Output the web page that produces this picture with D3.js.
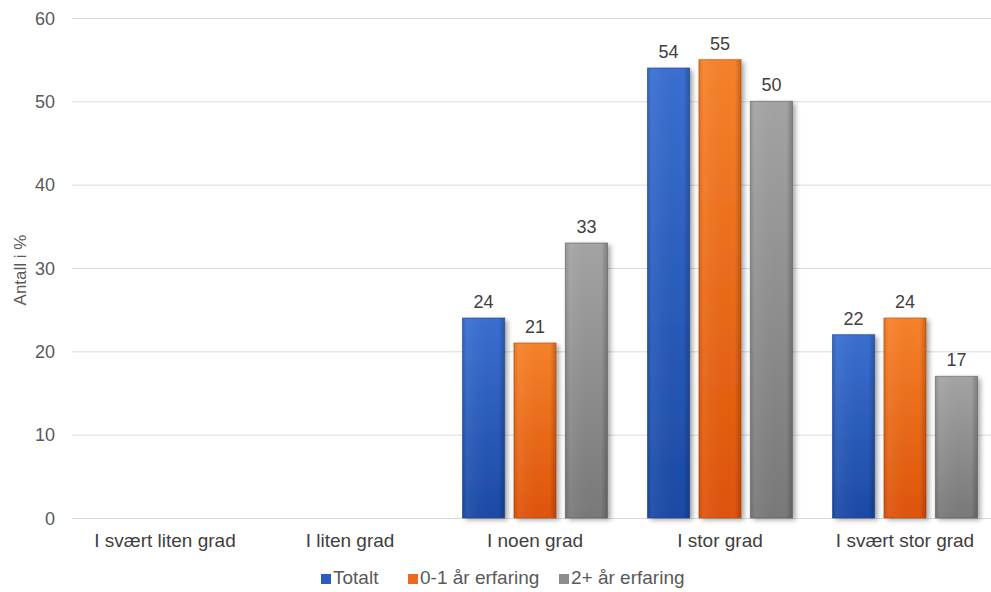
<!DOCTYPE html>
<html><head><meta charset="utf-8">
<script src="https://cdn.jsdelivr.net/npm/d3@7"></script>
<style>body{margin:0;background:#fff}svg{display:block;font-family:"Liberation Sans",Arial,sans-serif}</style>
</head><body><svg id="c" width="991" height="592"></svg>
<script>
const categories = ["I svært liten grad","I liten grad","I noen grad","I stor grad","I svært stor grad"];
const seriesNames = ["Totalt","0-1 år erfaring","2+ år erfaring"];
const totalt = [null,null,24,54,22];
const erfaring01 = [null,null,21,55,24];
const erfaring2 = [null,null,33,50,17];
const yTicks = [0,10,20,30,40,50,60];
const yTitle = "Antall i %";

const seriesVals = [totalt, erfaring01, erfaring2];
const colors = [
  {top:"#3a6fd2", bot:"#1b4aa6", edge:"#1a3f85", key:"#2b5cbf"},
  {top:"#f7822a", bot:"#df5408", edge:"#b44a0a", key:"#ec6a1a"},
  {top:"#a4a4a4", bot:"#797979", edge:"#5e5e5e", key:"#8c8c8c"}
];
const svg = d3.select("#c");
const defs = svg.append("defs");
colors.forEach((c,i)=>{
  const g = defs.append("linearGradient").attr("id","g"+i).attr("x1",0).attr("y1",0).attr("x2",0).attr("y2",1);
  g.append("stop").attr("offset","0%").attr("stop-color",c.top);
  g.append("stop").attr("offset","100%").attr("stop-color",c.bot);
  const h = defs.append("linearGradient").attr("id","h"+i).attr("x1",0).attr("y1",0).attr("x2",1).attr("y2",0);
  h.append("stop").attr("offset","0%").attr("stop-color","#000").attr("stop-opacity",0.12);
  h.append("stop").attr("offset","12%").attr("stop-color","#fff").attr("stop-opacity",0.06);
  h.append("stop").attr("offset","85%").attr("stop-color","#000").attr("stop-opacity",0.0);
  h.append("stop").attr("offset","100%").attr("stop-color","#000").attr("stop-opacity",0.22);
});
const f = defs.append("filter").attr("id","sh").attr("x","-20%").attr("y","-10%").attr("width","150%").attr("height","130%");
f.append("feDropShadow").attr("dx",3).attr("dy",2).attr("stdDeviation",2.5).attr("flood-color","#000").attr("flood-opacity",0.35);

const y = d3.scaleLinear().domain([0,60]).range([518,18]);
const x = d3.scaleBand().domain(categories).range([72.5,997.5]);
const x1 = d3.scaleBand().domain(seriesNames).range([20,x.bandwidth()-20]).paddingInner(0.18);

// gridlines
svg.append("g").selectAll("line").data(yTicks).join("line")
  .attr("x1",72).attr("x2",991).attr("y1",d=>y(d)+0.5).attr("y2",d=>y(d)+0.5)
  .attr("stroke","#d9d9d9").attr("stroke-width",1);

// y axis labels
const yAxis = d3.axisLeft(y).tickValues(yTicks).tickSize(0).tickPadding(0);
const ya = svg.append("g").attr("transform","translate(55,0)").call(yAxis);
ya.select(".domain").remove();
ya.selectAll("text").attr("font-size",18).attr("fill","#595959").attr("font-family","Liberation Sans, Arial, sans-serif").attr("dy","0.35em");

svg.append("text").attr("transform","translate(26,270) rotate(-90)").attr("text-anchor","middle")
  .attr("font-size",17).attr("fill","#595959").text(yTitle);

// x axis labels
const xAxis = d3.axisBottom(x).tickSize(0).tickPadding(0);
const xa = svg.append("g").attr("transform","translate(0,533)").call(xAxis);
xa.select(".domain").remove();
xa.selectAll("text").attr("font-size",19).attr("fill","#404040").attr("font-family","Liberation Sans, Arial, sans-serif").attr("dy","0.73em");

// bars
const rows = [];
categories.forEach((c,ci)=>seriesNames.forEach((s,si)=>{
  const v = seriesVals[si][ci];
  if (v!=null) rows.push({c,s,si,v});
}));
const bars = svg.append("g");
rows.forEach(r=>{
  const bx = x(r.c)+x1(r.s), bw = x1.bandwidth(), by = y(r.v), bh = y(0)-y(r.v);
  bars.append("rect").attr("x",bx).attr("y",by).attr("width",bw).attr("height",bh)
    .attr("fill","url(#g"+r.si+")").attr("filter","url(#sh)");
  bars.append("rect").attr("x",bx).attr("y",by).attr("width",bw).attr("height",bh)
    .attr("fill","url(#h"+r.si+")").attr("stroke",colors[r.si].edge).attr("stroke-width",1).attr("stroke-opacity",0.6);
  svg.append("text").attr("x",bx+bw/2).attr("y",by-10).attr("text-anchor","middle")
    .attr("font-size",18).attr("fill","#404040").text(r.v);
});

// legend
const legend = svg.append("g");
const legItems = [{x:321,label:seriesNames[0]},{x:408,label:seriesNames[1]},{x:559,label:seriesNames[2]}];
legItems.forEach((it,i)=>{
  legend.append("rect").attr("x",it.x).attr("y",574).attr("width",10).attr("height",10).attr("fill",colors[i].key);
  legend.append("text").attr("x",it.x+12).attr("y",584).attr("font-size",19).attr("fill","#595959").text(it.label);
});
</script></body></html>
